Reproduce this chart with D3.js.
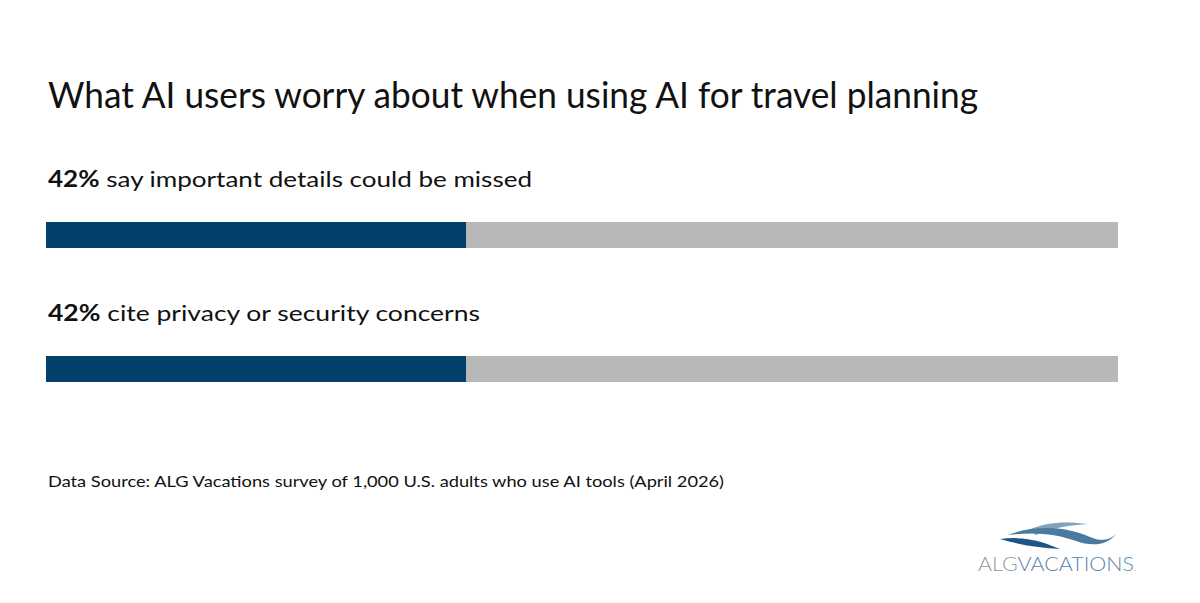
<!DOCTYPE html>
<html>
<head>
<meta charset="utf-8">
<script src="https://d3js.org/d3.v7.min.js"></script>
<style>
body { margin: 0; background: #fff; }
svg { display: block; font-family: Lato, 'Open Sans', sans-serif; }
</style>
</head>
<body>
<svg id="chart"></svg>
<script>
// data
var pcts = [42, 42];
var labels = ["say important details could be missed", "cite privacy or security concerns"];
var trackMax = 107.2; // grey track runs past the 100 mark in the original
var title = "What AI users worry about when using AI for travel planning";
var source = "Data Source: ALG Vacations survey of 1,000 U.S. adults who use AI tools (April 2026)";

var W = 1200, H = 603;
var svg = d3.select("#chart").attr("width", W).attr("height", H);

var x = d3.scaleLinear().domain([0, 100]).range([46, 1046]);
var rowH = 134;

svg.append("text")
  .attr("x", 48).attr("y", 108)
  .attr("font-size", 36)
  .attr("fill", "#111")
  .attr("textLength", 930).attr("lengthAdjust", "spacingAndGlyphs")
  .text(title);

var rows = svg.selectAll("g.row").data(pcts).enter().append("g")
  .attr("class", "row")
  .attr("transform", function(d, i) { return "translate(0," + (222 + i * rowH) + ")"; });

var widths = [484, 432];
rows.append("text")
  .attr("x", 48).attr("y", -35)
  .attr("font-size", 22)
  .attr("fill", "#111")
  .attr("textLength", function(d, i) { return widths[i]; })
  .attr("lengthAdjust", "spacingAndGlyphs")
  .each(function(d, i) {
    var t = d3.select(this);
    t.append("tspan").attr("font-weight", "bold").text(d + "%");
    t.append("tspan").text(" " + labels[i]);
  });

rows.append("rect")
  .attr("x", x(0)).attr("y", 0)
  .attr("width", x(trackMax) - x(0)).attr("height", 26)
  .attr("fill", "#b8b8b8");

rows.append("rect")
  .attr("x", x(0)).attr("y", 0)
  .attr("width", function(d) { return x(d) - x(0); }).attr("height", 26)
  .attr("fill", "#02416b");

svg.append("text")
  .attr("x", 48).attr("y", 487)
  .attr("font-size", 16)
  .attr("fill", "#111")
  .attr("textLength", 676).attr("lengthAdjust", "spacingAndGlyphs")
  .text(source);

// logo
var logo = svg.append("g").attr("transform", "translate(978,0)");
logo.append("path")
  .attr("d", "M50,530 C68,522 88,521 110,524 C92,525 74,528 58,535 Z")
  .attr("fill", "#7fa3bf");
logo.append("path")
  .attr("d", "M30,535 C58,524 90,527 112,537 C124,542 132,540 138,534 C130,545 114,547 98,541 C76,533 54,532 30,535 Z")
  .attr("fill", "#4a7aa0");
logo.append("path")
  .attr("d", "M22,539 C46,536 64,541 82,549 C62,548 42,545 22,539 Z")
  .attr("fill", "#1d5584");
logo.append("text")
  .attr("x", 0).attr("y", 571)
  .attr("font-size", 19).attr("font-weight", 300)
  .attr("textLength", 158).attr("lengthAdjust", "spacingAndGlyphs")
  .each(function() {
    var t = d3.select(this);
    t.append("tspan").attr("fill", "#8e9aa4").text("ALG");
    t.append("tspan").attr("fill", "#5b84a8").text("VACATIONS");
    t.append("tspan").attr("fill", "#5b84a8").attr("font-size", 8).text(".");
  });
</script>
</body>
</html>
